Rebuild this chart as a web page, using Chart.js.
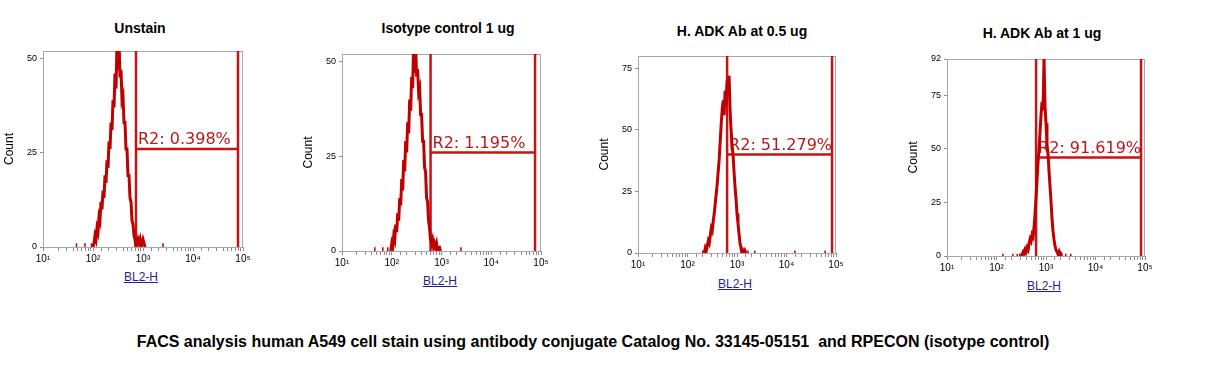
<!DOCTYPE html>
<html>
<head>
<meta charset="utf-8">
<script src="https://cdn.jsdelivr.net/npm/chart.js@4.4.0/dist/chart.umd.min.js"></script>
<style>
  body { margin: 0; width: 1210px; height: 390px; background: #fff; position: relative; overflow: hidden;
         font-family: "Liberation Sans", Arial, sans-serif; }
  canvas { position: absolute; }
  .title { position: absolute; font-weight: bold; font-size: 14px; line-height: 16px; white-space: nowrap; transform: translateX(-50%); }
  .xlab { position: absolute; font-size: 12px; line-height: 14px; color: #1f1f8f; text-decoration: underline; transform: translateX(-50%); }
  #caption { position: absolute; left: 0; width: 1186px; top: 333px; text-align: center; font-weight: bold; font-size: 16px; line-height: 18px; white-space: pre; }
</style>
</head>
<body>
<div id="caption">FACS analysis human A549 cell stain using antibody conjugate Catalog No. 33145-05151  and RPECON (isotype control)</div>
<script>
// panel titles and gate results
const titles = ["Unstain", "Isotype control 1 ug", "H. ADK Ab at 0.5 ug", "H. ADK Ab at 1 ug"];
const gateLabels = ["R2: 0.398%", "R2: 1.195%", "R2: 51.279%", "R2: 91.619%"];
const gateLow = [2.86, 2.78, 2.80, 2.80];    // log10 BL2-H
const gateHigh = [4.90, 4.88, 4.92, 4.92];
const gateLevel = [26, 26, 40, 46];         // count where the R2 bar sits
const yMax = [52, 52, 80, 92];
const yTicks = [[0, 25, 50], [0, 25, 50], [0, 25, 50, 75], [0, 25, 50, 75, 92]];
const decades = [1, 2, 3, 4, 5];

// histograms: log10(BL2-H) channel and count
const unstainLog = [2.00,2.02,2.04,2.06,2.08,2.10,2.12,2.14,2.16,2.18,2.20,2.22,2.24,2.26,2.28,2.30,2.32,2.34,2.36,2.38,
  2.40,2.42,2.44,2.46,2.48,2.50,2.52,2.54,2.56,2.58,2.60,2.62,2.64,2.66,2.68,2.70,2.72,2.74,2.76,2.78,
  2.80,2.82,2.84,2.86,2.88,2.90,2.92,2.94,2.96,2.98,3.00,3.02,3.04];
const unstainCount = [0,1,3,2,5,4,8,7,12,10,15,13,19,17,23,21,28,26,33,31,
  39,37,46,42,54,47,55,45,47,39,40,33,33,26,26,19,19,13,12,7,
  6,3,2,0,1,2,1,2,0,1,2,1,0];
const unstainEvents = [1.67, 1.84, 1.97, 3.40];

const isotypeLog = [1.98,2.00,2.02,2.04,2.06,2.08,2.10,2.12,2.14,2.16,2.18,2.20,2.22,2.24,2.26,2.28,2.30,2.32,2.34,2.36,
  2.38,2.40,2.42,2.44,2.46,2.48,2.50,2.52,2.54,2.56,2.58,2.60,2.62,2.64,2.66,2.68,2.70,2.72,2.74,2.76,
  2.78,2.80,2.82,2.84,2.86,2.88,2.90,2.92,2.94,2.96,2.98];
const isotypeCount = [0,2,1,4,3,7,5,10,8,14,12,19,16,24,21,29,26,34,31,40,
  37,46,43,55,47,54,46,48,42,43,36,36,29,29,22,21,14,13,8,6,
  3,2,3,1,2,1,2,0,1,1,0];
const isotypeEvents = [1.66, 1.82, 1.92, 3.39];

const adkHalfLog = [2.34,2.36,2.38,2.40,2.42,2.44,2.46,2.48,2.50,2.52,2.54,2.56,2.58,2.60,2.62,2.64,2.66,2.68,2.70,2.72,
  2.74,2.76,2.78,2.80,2.82,2.84,2.86,2.88,2.90,2.92,2.94,2.96,2.98,3.00,3.02,3.04,3.06,3.08,3.10,3.12,
  3.14,3.16,3.18];
const adkHalfCount = [0,2,1,3,5,4,7,10,9,13,16,20,24,28,33,38,45,52,58,62,
  56,66,60,70,64,72,58,50,44,40,33,27,22,16,12,8,4,2,0,1,
  0,1,0];
const adkHalfEvents = [2.31, 3.22, 3.36, 4.17, 4.78];

const adkOneLog = [2.50,2.52,2.54,2.56,2.58,2.60,2.62,2.64,2.66,2.68,2.70,2.72,2.74,2.76,2.78,2.80,2.82,2.84,2.86,2.88,
  2.90,2.92,2.94,2.96,2.98,3.00,3.02,3.04,3.06,3.08,3.10,3.12,3.14,3.16,3.18,3.20,3.22,3.24,3.26,3.28,
  3.30,3.32];
const adkOneCount = [0,1,2,1,3,2,4,3,6,8,7,10,9,14,20,28,36,44,50,58,
  66,72,68,92,70,62,52,48,40,33,26,18,12,8,5,3,2,1,2,0,
  1,0];
const adkOneEvents = [2.13, 2.33, 2.42, 2.47, 3.40, 3.50];

const histLogs = [unstainLog, isotypeLog, adkHalfLog, adkOneLog];
const histCounts = [unstainCount, isotypeCount, adkHalfCount, adkOneCount];
const histEvents = [unstainEvents, isotypeEvents, adkHalfEvents, adkOneEvents];

// layout: plot box edges of each panel in page pixels
const boxes = [
  { left: 43, right: 243, top: 51, bottom: 247, titleX: 140, titleY: 28, labX: 141, labY: 277 },
  { left: 342, right: 541, top: 54, bottom: 251, titleX: 448, titleY: 28, labX: 440, labY: 281 },
  { left: 638, right: 836, top: 56, bottom: 253, titleX: 742, titleY: 31, labX: 735, labY: 284 },
  { left: 947, right: 1145, top: 59, bottom: 256, titleX: 1042, titleY: 33, labX: 1044, labY: 286 }
];
const AXIS_W = 42, AXIS_H = 30, PAD_T = 12, PAD_R = 14;
const sup = { 1: "\u00b9", 2: "\u00b2", 3: "\u00b3", 4: "\u2074", 5: "\u2075" };
const RED = "#bf0000";

Chart.defaults.font.family = '"Liberation Sans", Arial, sans-serif';
Chart.defaults.color = "#000";

// box outline + R2 label (drawn under the histogram)
const panelDecor = {
  id: "panelDecor",
  beforeDatasetsDraw(chart, args, opts) {
    const { ctx, chartArea: a, scales: { x, y } } = chart;
    ctx.save();
    ctx.strokeStyle = "#a8a8a8";
    ctx.lineWidth = 1;
    ctx.strokeRect(a.left + 0.5, a.top + 0.5, a.right - a.left - 1, a.bottom - a.top);
    ctx.font = '16px "DejaVu Sans"';
    ctx.fillStyle = "#b81818";
    ctx.fillText(opts.label, x.getPixelForValue(opts.lo) + 2, y.getPixelForValue(opts.level) - 5);
    ctx.restore();
  }
};

function makePanel(i) {
  const b = boxes[i];
  const t = document.createElement("div");
  t.className = "title";
  t.textContent = titles[i];
  t.style.left = b.titleX + "px";
  t.style.top = (b.titleY - 8) + "px";
  document.body.appendChild(t);

  const lab = document.createElement("div");
  lab.className = "xlab";
  lab.textContent = "BL2-H";
  lab.style.left = b.labX + "px";
  lab.style.top = (b.labY - 7) + "px";
  document.body.appendChild(lab);

  const canvas = document.createElement("canvas");
  canvas.width = AXIS_W + (b.right - b.left) + PAD_R;
  canvas.height = PAD_T + (b.bottom - b.top) + AXIS_H;
  canvas.style.left = (b.left - AXIS_W) + "px";
  canvas.style.top = (b.top - PAD_T) + "px";
  document.body.appendChild(canvas);

  const lo = Math.pow(10, gateLow[i]), hi = Math.pow(10, gateHigh[i]);
  const hist = histLogs[i].map((e, k) => ({ x: Math.pow(10, e), y: histCounts[i][k] }));
  const events = [];
  histEvents[i].forEach(e => {
    const v = Math.pow(10, e);
    events.push({ x: v, y: 0 }, { x: v, y: 1 }, { x: v, y: null });
  });
  const gate = [
    { x: lo, y: 0 }, { x: lo, y: yMax[i] }, { x: lo, y: null },
    { x: hi, y: 0 }, { x: hi, y: yMax[i] }, { x: hi, y: null },
    { x: lo, y: gateLevel[i] }, { x: hi, y: gateLevel[i] }
  ];

  new Chart(canvas, {
    type: "scatter",
    data: {
      datasets: [
        { data: hist, showLine: true, borderColor: RED, borderWidth: 3, pointRadius: 0 },
        { data: events, showLine: true, borderColor: RED, borderWidth: 1.5, pointRadius: 0, spanGaps: false },
        { data: gate, showLine: true, borderColor: "#c41414", borderWidth: 2.5, pointRadius: 0, spanGaps: false }
      ]
    },
    options: {
      responsive: false,
      animation: false,
      layout: { padding: { left: 0, top: PAD_T, right: PAD_R, bottom: 0 } },
      plugins: {
        legend: { display: false },
        tooltip: { enabled: false },
        panelDecor: { label: gateLabels[i], lo: lo, level: gateLevel[i] }
      },
      scales: {
        x: {
          type: "logarithmic",
          min: 10,
          max: 100000,
          afterFit: s => { s.height = AXIS_H; s.paddingLeft = 0; s.paddingRight = 0; },
          grid: { drawOnChartArea: false, tickLength: 4, tickColor: "#8c8c8c" },
          border: { color: "#8c8c8c" },
          ticks: {
            autoSkip: false, maxRotation: 0, minRotation: 0, padding: 2,
            font: { size: 10 },
            callback: v => {
              const e = Math.round(Math.log10(v));
              return decades.includes(e) && Math.abs(Math.log10(v) - e) < 1e-9 ? "10" + sup[e] : "";
            }
          }
        },
        y: {
          min: 0,
          max: yMax[i],
          afterBuildTicks: s => { s.ticks = yTicks[i].map(v => ({ value: v })); },
          afterFit: s => { s.width = AXIS_W; s.paddingTop = 0; s.paddingBottom = 0; },
          grid: { drawOnChartArea: false, tickLength: 3, tickColor: "#8c8c8c" },
          border: { color: "#8c8c8c" },
          ticks: { padding: 3, font: { size: 9 } },
          title: { display: true, text: "Count", font: { size: 12 }, padding: { top: 1, bottom: 0 } }
        }
      }
    },
    plugins: [panelDecor]
  });
}

for (let i = 0; i < 4; i++) makePanel(i);
</script>
</body>
</html>
